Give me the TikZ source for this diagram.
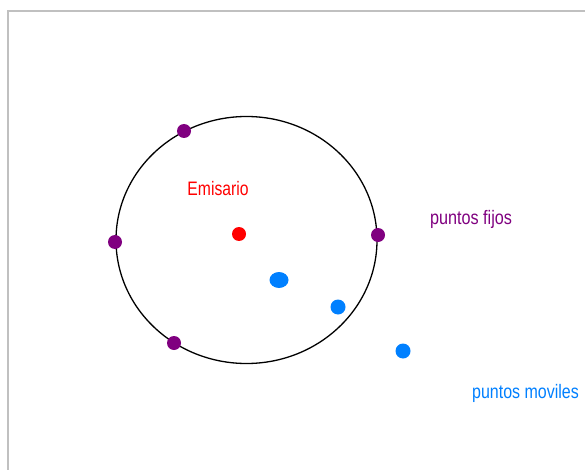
\documentclass[tikz,border=0pt]{standalone}
\usetikzlibrary{shapes.geometric}
\usepackage{fontspec}
\setsansfont{Liberation Sans}
\usepackage{graphicx}
\definecolor{fpurple}{RGB}{128,0,128}
\definecolor{fblue}{RGB}{0,128,255}
\definecolor{fred}{RGB}{255,0,0}
\definecolor{fgray}{RGB}{192,192,192}
\begin{document}
\begin{tikzpicture}[x=1pt,y=-1pt,
  dotp/.style={circle,fill=fpurple,inner sep=0pt,minimum size=14pt},
  dotb/.style={circle,fill=fblue,inner sep=0pt,minimum size=15pt},
  lbl/.style={font=\fontsize{10}{10}\selectfont\sffamily,inner sep=0pt}]
\useasboundingbox (0,0) rectangle (585,470);
\fill[white] (0,0) rectangle (585,470);
\draw[fgray,line width=2pt] (8,470) -- (8,11.5) -- (585,11.5);
\node[draw=black,line width=1.3pt,ellipse,minimum width=261pt,minimum height=247pt,inner sep=0pt] (circ) at (246.5,240) {};
\node[dotp] (p1) at (184,131) {};
\node[dotp] (p2) at (115,242) {};
\node[dotp] (p3) at (378,235) {};
\node[dotp] (p4) at (174,343) {};
\node[circle,fill=fred,inner sep=0pt,minimum size=14pt] (e) at (239,234) {};
\node[ellipse,fill=fblue,inner sep=0pt,minimum width=19pt,minimum height=16pt] (m1) at (279,280) {};
\node[dotb] (m2) at (338,307) {};
\node[dotb] (m3) at (403,351) {};
\node[lbl,text=fred] (te) at (218,189) {\scalebox{1.57}[1.95]{Emisario}};
\node[lbl,text=fpurple] (tf) at (471,219) {\scalebox{1.62}[1.95]{puntos fijos}};
\node[lbl,text=fblue] (tm) at (525.5,393) {\scalebox{1.6}[1.95]{puntos moviles}};
\end{tikzpicture}
\end{document}
